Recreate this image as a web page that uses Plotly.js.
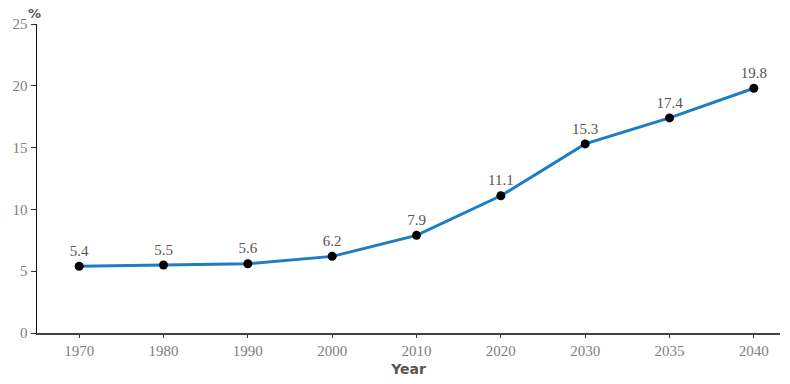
<!DOCTYPE html>
<html>
<head>
<meta charset="utf-8">
<script src="https://cdn.plot.ly/plotly-3.0.1.min.js"></script>
<style>
  html, body { margin: 0; padding: 0; background: #fff; }
  #chart { width: 790px; height: 384px; }
</style>
</head>
<body>
<div id="chart"></div>
<script>
// Share of population, by year (%)
const years = ['1970', '1980', '1990', '2000', '2010', '2020', '2030', '2035', '2040'];
const shares = [5.4, 5.5, 5.6, 6.2, 7.9, 11.1, 15.3, 17.4, 19.8];
const yTicks = [0, 5, 10, 15, 20, 25];

const serif = 'Liberation Serif, Times New Roman, serif';
const sans = 'DejaVu Sans, Verdana, sans-serif';

const trace = {
  type: 'scatter',
  mode: 'lines+markers+text',
  x: years,
  y: shares,
  text: shares.map(v => v.toFixed(1)),
  textposition: 'top center',
  textfont: { family: serif, size: 15, color: '#555' },
  line: { color: '#1c7ec6', width: 3 },
  marker: { color: '#000', size: 9 },
  cliponaxis: false,
  hoverinfo: 'x+y'
};

const layout = {
  width: 790,
  height: 384,
  margin: { l: 37, r: 10, t: 24, b: 51 },
  paper_bgcolor: '#fff',
  plot_bgcolor: '#fff',
  showlegend: false,
  font: { family: serif, color: '#666' },
  xaxis: {
    type: 'category',
    range: [-0.5, 8.31],
    showline: true,
    linecolor: '#444',
    linewidth: 1.5,
    showgrid: false,
    zeroline: false,
    ticks: 'outside',
    ticklen: 3,
    tickcolor: '#333',
    tickfont: { family: serif, size: 15, color: '#808080' },
    title: { text: '<b>Year</b>', font: { family: sans, size: 14, color: '#555' }, standoff: 6 }
  },
  yaxis: {
    range: [0, 25],
    tickvals: yTicks,
    showline: true,
    linecolor: '#111',
    linewidth: 1.5,
    showgrid: false,
    zeroline: false,
    ticks: 'outside',
    ticklen: 5,
    tickcolor: '#333',
    tickfont: { family: serif, size: 15, color: '#808080' }
  },
  annotations: [{
    text: '<b>%</b>',
    xref: 'paper', yref: 'paper',
    x: 0, y: 1,
    xanchor: 'center', yanchor: 'bottom',
    xshift: -3,
    yshift: 1,
    showarrow: false,
    font: { family: sans, size: 13, color: '#555' }
  }]
};

Plotly.newPlot('chart', [trace], layout, { displayModeBar: false, staticPlot: true });
</script>
</body>
</html>
